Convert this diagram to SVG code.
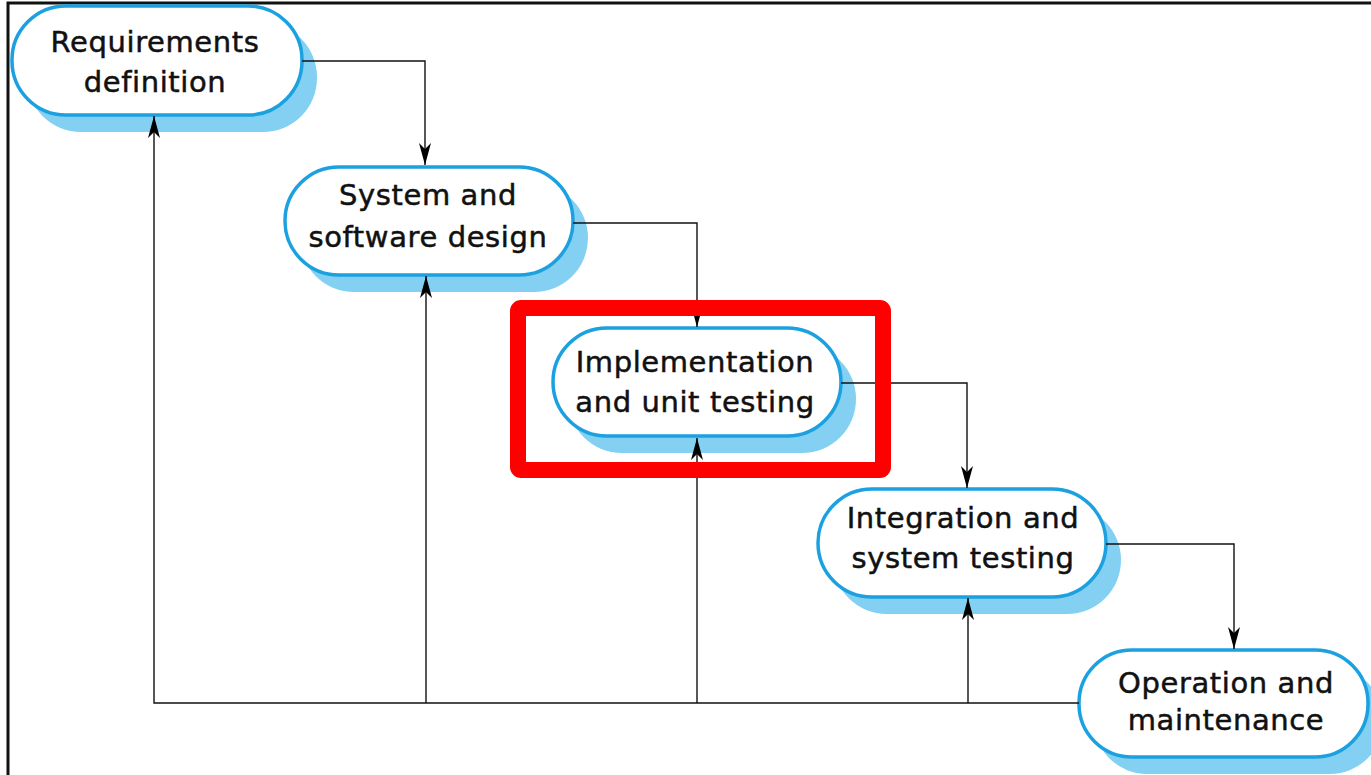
<svg xmlns="http://www.w3.org/2000/svg" width="1371" height="775" viewBox="0 0 1371 775">
<style>
.shadow{fill:#83d0f2;}
.box{fill:#ffffff;stroke:#1ba1e0;stroke-width:3.5;}
.lbl{font-family:"DejaVu Sans","Noto Sans",sans-serif;font-size:29px;letter-spacing:0.6px;fill:#111;stroke:#111;stroke-width:0.5;text-anchor:middle;}
.conn{fill:none;stroke:#111;stroke-width:1.4;}
</style>
<defs>
<marker id="arr" markerUnits="userSpaceOnUse" markerWidth="26" markerHeight="16" viewBox="-24 -8 26 16" refX="0" refY="0" orient="auto">
<path d="M0,0 L-22,-6 L-16,0 L-22,6 Z" fill="#000"/>
</marker>
</defs>
<rect width="1371" height="775" fill="#ffffff"/>
<g id="frame" stroke="#111" stroke-width="3" fill="none">
<path d="M1371,3 H8 V775"/>
</g>
<g id="n1">
<rect class="shadow" x="27" y="23" width="290" height="109" rx="54"/>
<rect class="box" x="12" y="6" width="290" height="109" rx="54"/>
<text class="lbl" x="155" y="52">Requirements</text>
<text class="lbl" x="155" y="92">definition</text>
</g>
<g id="n2">
<rect class="shadow" x="300" y="184" width="288" height="108" rx="54"/>
<rect class="box" x="285" y="167" width="288" height="108" rx="54"/>
<text class="lbl" x="428" y="205">System and</text>
<text class="lbl" x="428" y="247">software design</text>
</g>
<g id="n3">
<rect class="shadow" x="568" y="345" width="288" height="108" rx="54"/>
<rect class="box" x="553" y="328" width="288" height="108" rx="54"/>
<text class="lbl" x="695" y="372">Implementation</text>
<text class="lbl" x="695" y="412">and unit testing</text>
</g>
<g id="n4">
<rect class="shadow" x="833" y="506" width="288" height="108" rx="54"/>
<rect class="box" x="818" y="489" width="288" height="108" rx="54"/>
<text class="lbl" x="963" y="528">Integration and</text>
<text class="lbl" x="963" y="568">system testing</text>
</g>
<g id="n5">
<rect class="shadow" x="1094" y="667" width="289" height="107" rx="53"/>
<rect class="box" x="1079" y="650" width="289" height="107" rx="53"/>
<text class="lbl" x="1226" y="693">Operation and</text>
<text class="lbl" x="1226" y="730">maintenance</text>
</g>
<g id="connectors">
<path class="conn" d="M302,61 H425 V165" marker-end="url(#arr)"/>
<path class="conn" d="M573,223 H697 V327" marker-end="url(#arr)"/>
<path class="conn" d="M841,383 H967 V488" marker-end="url(#arr)"/>
<path class="conn" d="M1106,544 H1234 V649" marker-end="url(#arr)"/>
<path class="conn" d="M1079,703 H154 V116" marker-end="url(#arr)"/>
<path class="conn" d="M426,703 V276" marker-end="url(#arr)"/>
<path class="conn" d="M697,703 V438" marker-end="url(#arr)"/>
<path class="conn" d="M968,703 V598" marker-end="url(#arr)"/>
</g>
<g id="highlight">
<rect x="518" y="308" width="365" height="162" rx="3" fill="none" stroke="#ff0000" stroke-width="16" stroke-linejoin="round"/>
</g>
</svg>
